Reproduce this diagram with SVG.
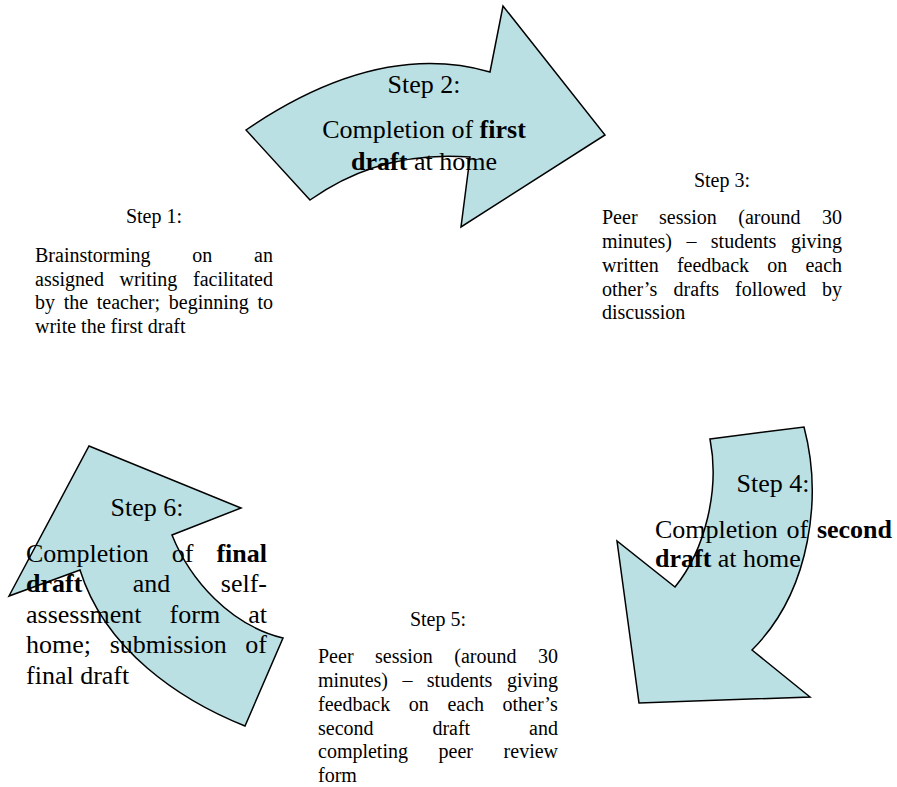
<svg xmlns="http://www.w3.org/2000/svg" width="897" height="787" viewBox="0 0 897 787">
<style>
text{font-family:"Liberation Serif","Times New Roman",serif;fill:#000}
.s{font-size:20px}
.m{text-anchor:middle}
.big{font-size:26px}
.b{font-weight:bold}
.arrow{fill:#BAE0E4;stroke:#000;stroke-width:1.5;stroke-linejoin:miter}
</style>
<rect width="897" height="787" fill="#fff"/>
<g id="step2">
<path class="arrow" d="M 246,130 Q 378,40 490,72 L 503,6 L 605,135 L 461,227 L 470,157 Q 380,150 310,200 Z"/>
<text class="big m" x="424" y="93">Step 2:</text>
<text class="big m" x="424" y="138">Completion of <tspan class="b">first</tspan></text>
<text class="big m" x="424" y="170"><tspan class="b">draft</tspan> at home</text>
</g>
<g id="step4">
<path class="arrow" d="M 710,439 L 804,427 C 822,495 812,590 752,650 L 810,697 L 639,703 L 617,541 L 675,587 C 705,550 720,490 710,439 Z"/>
<text class="big m" x="773" y="492">Step 4:</text>
<text class="big" y="538"><tspan x="655">Completion</tspan><tspan x="786.5">of</tspan><tspan x="816.9" class="b">second</tspan></text>
<text class="big" x="655" y="567"><tspan class="b">draft</tspan> at home</text>
</g>
<g id="step6">
<path class="arrow" d="M 89,446 L 241,508 L 172,535 C 190,580 230,625 283,638 L 245,726 C 180,700 105,650 80,570 L 9,596 Z"/>
<text class="big m" x="147" y="516">Step 6:</text>
<text class="big" y="562"><tspan x="26">Completion</tspan><tspan x="171.7">of</tspan><tspan x="216.4" class="b">final</tspan></text>
<text class="big" y="592"><tspan x="26" class="b">draft</tspan><tspan x="132.8">and</tspan><tspan x="220.8">self-</tspan></text>
<text class="big" y="622.5"><tspan x="26">assessment</tspan><tspan x="169.6">form</tspan><tspan x="248.2">at</tspan></text>
<text class="big" y="653"><tspan x="26">home;</tspan><tspan x="109.7">submission</tspan><tspan x="245.3">of</tspan></text>
<text class="big" x="26" y="683.5">final draft</text>
</g>
<g id="step1">
<text class="s m" x="154" y="222.7">Step 1:</text>
<text class="s" y="262"><tspan x="35">Brainstorming</tspan><tspan x="192.3">on</tspan><tspan x="254.1">an</tspan></text>
<text class="s" y="285.7"><tspan x="35">assigned</tspan><tspan x="119.5">writing</tspan><tspan x="193">facilitated</tspan></text>
<text class="s" y="309.4"><tspan x="35">by</tspan><tspan x="63.7">the</tspan><tspan x="96.8">teacher;</tspan><tspan x="168.8">beginning</tspan><tspan x="257.4">to</tspan></text>
<text class="s" x="35" y="333">write the first draft</text>
</g>
<g id="step3">
<text class="s m" x="722" y="187">Step 3:</text>
<text class="s" y="224.3"><tspan x="602">Peer</tspan><tspan x="659">session</tspan><tspan x="738.3">(around</tspan><tspan x="822">30</tspan></text>
<text class="s" y="248"><tspan x="602">minutes)</tspan><tspan x="686.4">–</tspan><tspan x="710.8">students</tspan><tspan x="790.9">giving</tspan></text>
<text class="s" y="271.8"><tspan x="602">written</tspan><tspan x="676.9">feedback</tspan><tspan x="767.3">on</tspan><tspan x="805.4">each</tspan></text>
<text class="s" y="295.6"><tspan x="602">other’s</tspan><tspan x="673.5">drafts</tspan><tspan x="735">followed</tspan><tspan x="822">by</tspan></text>
<text class="s" x="602" y="319.4">discussion</text>
</g>
<g id="step5">
<text class="s m" x="438" y="626">Step 5:</text>
<text class="s" y="663.3"><tspan x="318">Peer</tspan><tspan x="375">session</tspan><tspan x="454.3">(around</tspan><tspan x="538">30</tspan></text>
<text class="s" y="687"><tspan x="318">minutes)</tspan><tspan x="402.4">–</tspan><tspan x="426.8">students</tspan><tspan x="506.9">giving</tspan></text>
<text class="s" y="710.8"><tspan x="318">feedback</tspan><tspan x="408.8">on</tspan><tspan x="447.4">each</tspan><tspan x="502.5">other’s</tspan></text>
<text class="s" y="734.6"><tspan x="318">second</tspan><tspan x="432.4">draft</tspan><tspan x="529.1">and</tspan></text>
<text class="s" y="758.4"><tspan x="318">completing</tspan><tspan x="438.6">peer</tspan><tspan x="503.6">review</tspan></text>
<text class="s" x="318" y="782.2">form</text>
</g>
<g id="connectors"/>
</svg>
